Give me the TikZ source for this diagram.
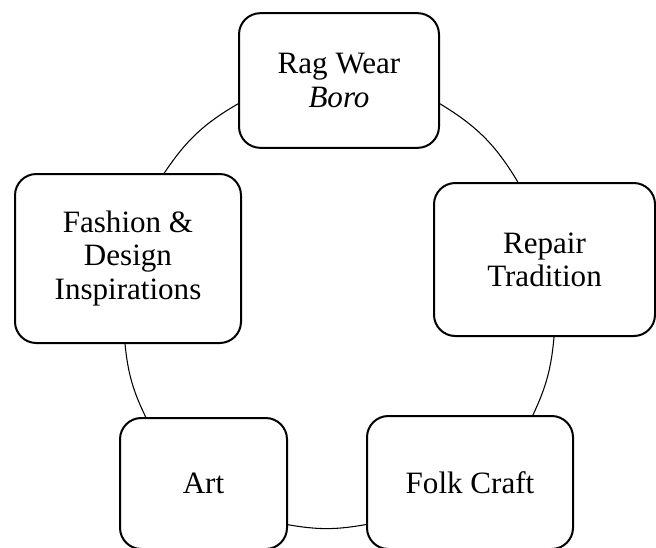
\documentclass[tikz,border=0pt]{standalone}
\usepackage{fontspec}
\setmainfont{Liberation Serif}

\begin{document}
\begin{tikzpicture}[x=0.75pt, y=-0.75pt,
  cyclebox/.style={draw, line width=1.5pt, rounded corners=16pt, align=center, inner sep=2pt, font=\fontsize{23.3}{24.8}\selectfont},
  cyclearc/.style={line width=0.8pt, bend right=#1}]
\useasboundingbox (0,0) rectangle (656,547);

\foreach \name/\x/\y/\w/\h/\txt in {rag/339/80.5/150/101/{Rag Wear\\\textit{Boro}}, repair/544.5/259.5/165.75/114.75/{Repair\\Tradition}, folk/470/482.5/154.5/99.75/{Folk Craft}, art/203.5/483.5/125.25/98.25/{Art}, fashion/128/258.5/169.5/126.75/{Fashion \&\\Design\\Inspirations}} {
  \node[cyclebox, minimum width=\w pt, minimum height=\h pt] (\name) at (\x,\y) {\txt};
}

\draw[cyclearc=13] (rag.193) to (fashion.67);
\draw[cyclearc=10] (fashion.268) to (art.131);
\draw[cyclearc=10] (art.334) to (folk.202);
\draw[cyclearc=10] (folk.47) to (repair.277);
\draw[cyclearc=14] (repair.109) to (rag.347);
\end{tikzpicture}
\end{document}
